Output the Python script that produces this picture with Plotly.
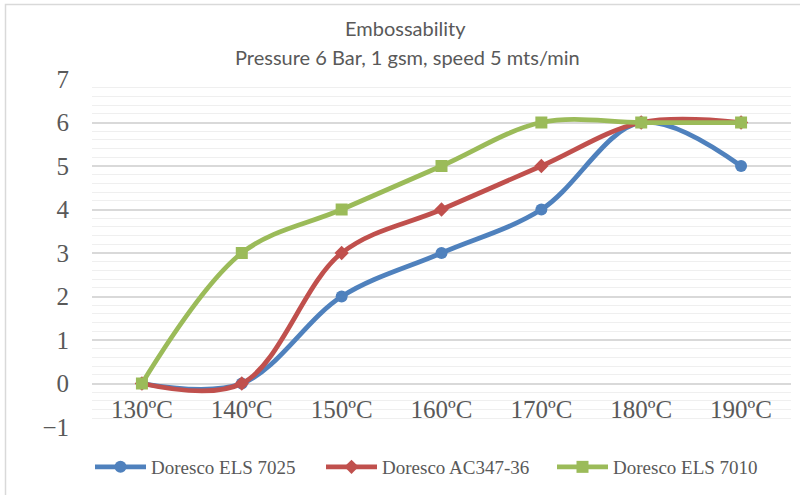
import plotly.graph_objects as go

categories = ["130ºC", "140ºC", "150ºC", "160ºC", "170ºC", "180ºC", "190ºC"]
els7025 = [0, 0, 2, 3, 4, 6, 5]
ac347 = [0, 0, 3, 4, 5, 6, 6]
els7010 = [0, 3, 4, 5, 6, 6, 6]

W, H = 800, 495
L, R, T, B = 92, 9, 79, 68
PW, PH = W - L - R, H - T - B

fig = go.Figure()
series = [
    ("Doresco ELS 7025", els7025, "#4F81BD", "circle", 12),
    ("Doresco AC347-36", ac347, "#C0504D", "diamond", 11),
    ("Doresco ELS 7010", els7010, "#9BBB59", "square", 12),
]
for name, vals, col, sym, sz in series:
    fig.add_trace(go.Scatter(
        x=categories, y=vals, name=name, mode="lines+markers",
        line=dict(color=col, width=4.75, shape="spline", smoothing=1.0),
        marker=dict(color=col, symbol=sym, size=sz),
    ))

serif = "Liberation Serif"
sans = "Lato"
gray = "#595959"

def py(pix):
    return 1 - (pix - T) / PH

def px(pix):
    return (pix - L) / PW

fig.update_layout(
    width=W, height=H,
    margin=dict(l=L, r=R, t=T, b=B),
    paper_bgcolor="white", plot_bgcolor="white",
    showlegend=True,
    legend=dict(
        orientation="h", x=px(90), xanchor="left", y=py(467),
        yanchor="middle",
        font=dict(family=serif, size=19, color=gray),
        itemwidth=51, entrywidth=165, tracegroupgap=0,
    ),
    xaxis=dict(
        type="category", anchor="free", position=0.125,
        showgrid=False, showline=False, ticks="", zeroline=False,
        tickfont=dict(family=serif, size=25, color=gray),
        ticklabelstandoff=8,
        range=[-0.5, 6.5],
    ),
    yaxis=dict(
        range=[-1, 7], dtick=1, showgrid=True, gridcolor="#D9D9D9", gridwidth=1.5,
        zeroline=False, showline=False, ticks="",
        tickfont=dict(family=serif, size=25, color=gray),
        ticklabelstandoff=22,
        minor=dict(dtick=0.2, showgrid=True, gridcolor="#EFEFEF", gridwidth=1),
    ),
    annotations=[
        dict(text="Embossability", xref="paper", yref="paper", x=px(405), y=py(28),
             xanchor="center", yanchor="middle", showarrow=False,
             font=dict(family=sans, size=20, color=gray)),
        dict(text="Pressure 6 Bar, 1 gsm, speed 5 mts/min", xref="paper", yref="paper",
             x=px(407), y=py(57), xanchor="center", yanchor="middle", showarrow=False,
             font=dict(family=sans, size=20, color=gray)),
    ],
    shapes=[dict(
        type="rect", xref="paper", yref="paper",
        x0=px(5.5), x1=px(W + 5),
        y0=py(H + 5), y1=py(4.5),
        line=dict(color="#D9D9D9", width=1.5), fillcolor="rgba(0,0,0,0)", layer="below",
    )],
)
fig.write_html("out.html")
